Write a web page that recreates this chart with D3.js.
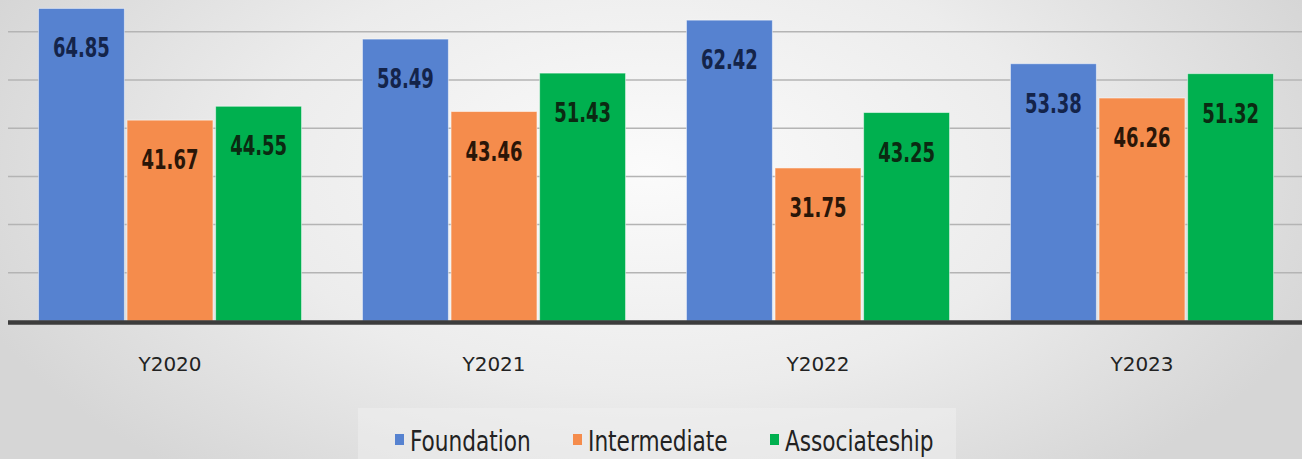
<html>
<head>
<script src="https://d3js.org/d3.v7.min.js"></script>
<style>
body { margin:0; overflow:hidden; }
</style>
</head>
<body>
<script>
//DATA
var years = ["Y2020", "Y2021", "Y2022", "Y2023"];
var seriesNames = ["Foundation", "Intermediate", "Associateship"];
var foundation = [64.85, 58.49, 62.42, 53.38];
var intermediate = [41.67, 43.46, 31.75, 46.26];
var associateship = [44.55, 51.43, 43.25, 51.32];
var gridTicks = [10, 20, 30, 40, 50, 60];
//////////////////////

var allSeries = [foundation, intermediate, associateship];
var barColors = ["#5682d0", "#f58c4c", "#00b04f"];
var labelColors = ["#14244a", "#2a1608", "#0b2a12"];

var W = 1302, H = 459;
var narrowFont = "'Liberation Sans Narrow', 'DejaVu Sans Condensed', sans-serif";

var svg = d3.select("body")
   .append("svg")
   .attr("width", W)
   .attr("height", H);

//BACKGROUND GRADIENT
var defs = svg.append("defs");
var grad = defs.append("radialGradient")
   .attr("id", "bg")
   .attr("gradientUnits", "userSpaceOnUse")
   .attr("cx", 650).attr("cy", 170)
   .attr("r", 720)
   .attr("gradientTransform", "translate(650,170) scale(1,0.55) translate(-650,-170)");
grad.append("stop").attr("offset", "0%").attr("stop-color", "#fbfbfb");
grad.append("stop").attr("offset", "55%").attr("stop-color", "#ececec");
grad.append("stop").attr("offset", "100%").attr("stop-color", "#d6d6d6");

svg.append("rect")
   .attr("width", W).attr("height", H)
   .attr("fill", "url(#bg)");

//SCALES
var x0 = d3.scaleBand()
   .domain(years)
   .range([8, 1304])
   .paddingInner(0.188)
   .paddingOuter(0.094);

var x1 = d3.scaleBand()
   .domain(seriesNames)
   .range([0, x0.bandwidth()])
   .paddingInner(0.03);

var y = d3.scaleLinear()
   .domain([0, 70])
   .range([321, 321 - 70 * 4.82]);

//squeeze text horizontally (no narrow font installed)
function squeeze(sel, k) {
	sel.each(function() {
		var w = this.getComputedTextLength();
		d3.select(this)
		   .attr("textLength", w * k)
		   .attr("lengthAdjust", "spacingAndGlyphs");
	});
}

//GRIDLINES
svg.append("g")
   .selectAll("line")
   .data(gridTicks)
   .join("line")
   .attr("x1", 8).attr("x2", W)
   .attr("y1", function(d) { return y(d) })
   .attr("y2", function(d) { return y(d) })
   .attr("stroke", "#b4b4b4")
   .attr("stroke-width", 1.5);

//BARS + VALUE LABELS
var rows = years.map(function(yr, i) {
	return seriesNames.map(function(s, j) {
		return {year: yr, series: s, idx: j, value: allSeries[j][i]};
	});
});

var groups = svg.append("g")
   .selectAll("g")
   .data(rows)
   .join("g")
   .attr("transform", function(d) { return "translate(" + x0(d[0].year) + ",0)" });

groups.selectAll("rect")
   .data(function(d) { return d })
   .join("rect")
   .attr("x", function(d) { return x1(d.series) })
   .attr("y", function(d) { return y(d.value) })
   .attr("width", x1.bandwidth())
   .attr("height", function(d) { return y(0) - y(d.value) })
   .attr("fill", function(d) { return barColors[d.idx] })
   .attr("stroke", "#ffffff")
   .attr("stroke-opacity", 0.5)
   .attr("stroke-width", 1);

groups.selectAll("text")
   .data(function(d) { return d })
   .join("text")
   .attr("x", function(d) { return x1(d.series) + x1.bandwidth() / 2 })
   .attr("y", function(d) { return y(d.value) + 49 })
   .attr("text-anchor", "middle")
   .attr("font-family", narrowFont)
   .attr("font-weight", "bold")
   .attr("font-size", 27)
   .attr("fill", function(d) { return labelColors[d.idx] })
   .text(function(d) { return d.value.toFixed(2) })
   .call(squeeze, 0.74);

//BASELINE
svg.append("line")
   .attr("x1", 8).attr("x2", W)
   .attr("y1", y(0) + 1.5).attr("y2", y(0) + 1.5)
   .attr("stroke", "#3c3c3c")
   .attr("stroke-width", 4.5);

//X AXIS LABELS
var xAxis = d3.axisBottom(x0).tickSize(0).tickPadding(0);
var ax = svg.append("g")
   .attr("transform", "translate(0,371)")
   .call(xAxis);
ax.select(".domain").remove();
ax.selectAll("text")
   .attr("dy", 0)
   .attr("font-family", "'DejaVu Sans', sans-serif")
   .attr("font-size", 20)
   .attr("fill", "#222222");

//LEGEND
svg.append("rect")
   .attr("x", 358).attr("y", 408)
   .attr("width", 598).attr("height", 51)
   .attr("fill", "#f2f2f2")
   .attr("opacity", 0.45);

var legendX = [395, 573, 770];
var legend = svg.append("g")
   .selectAll("g")
   .data(seriesNames)
   .join("g")
   .attr("transform", function(d, i) { return "translate(" + legendX[i] + ",0)" });

legend.append("rect")
   .attr("x", 0).attr("y", 434)
   .attr("width", 9).attr("height", 11)
   .attr("fill", function(d, i) { return barColors[i] });

legend.append("text")
   .attr("x", 15).attr("y", 451)
   .attr("font-family", narrowFont)
   .attr("font-size", 29)
   .attr("fill", "#222222")
   .text(function(d) { return d })
   .call(squeeze, 0.83);

</script>
</body>
</html>
